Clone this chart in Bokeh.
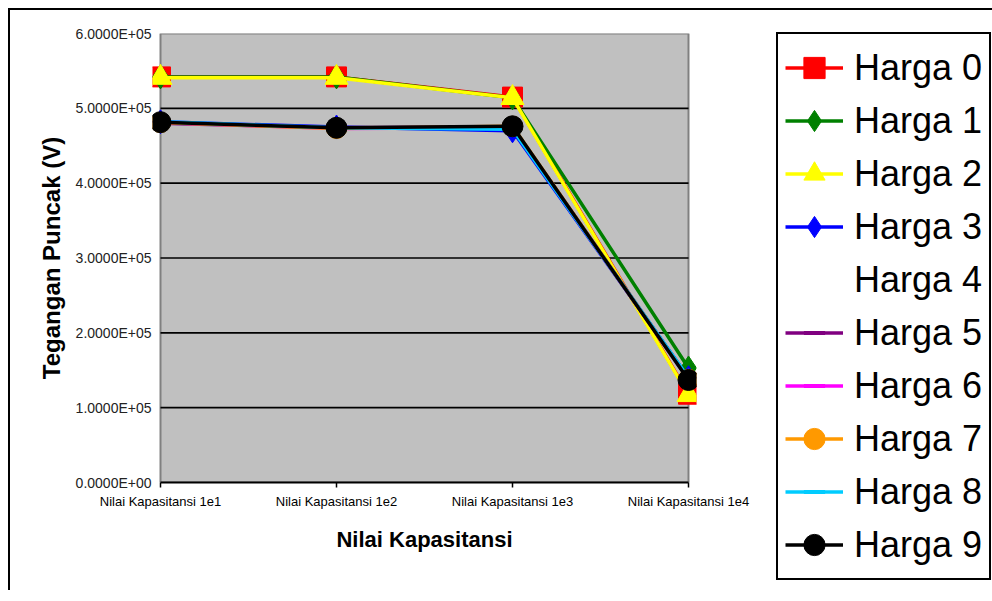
from bokeh.plotting import figure
from bokeh.models import FixedTicker, Legend, LegendItem, Range1d
from bokeh.embed import file_html
from bokeh.resources import INLINE

# ---------------- data ----------------
categories = ["Nilai Kapasitansi 1e1", "Nilai Kapasitansi 1e2",
              "Nilai Kapasitansi 1e3", "Nilai Kapasitansi 1e4"]
series_names = ["Harga 0", "Harga 1", "Harga 2", "Harga 3", "Harga 4",
                "Harga 5", "Harga 6", "Harga 7", "Harga 8", "Harga 9"]
harga_0 = [5.42e5, 5.42e5, 5.15e5, 1.18e5]
harga_1 = [5.42e5, 5.42e5, 5.14e5, 1.53e5]
harga_2 = [5.41e5, 5.41e5, 5.14e5, 1.17e5]
harga_3 = [4.82e5, 4.75e5, 4.70e5, 1.40e5]
harga_4 = [4.81e5, 4.74e5, 4.75e5, 1.38e5]
harga_5 = [4.80e5, 4.74e5, 4.75e5, 1.39e5]
harga_6 = [4.81e5, 4.73e5, 4.74e5, 1.38e5]
harga_7 = [4.81e5, 4.73e5, 4.76e5, 1.38e5]
harga_8 = [4.82e5, 4.74e5, 4.72e5, 1.40e5]
harga_9 = [4.815e5, 4.74e5, 4.76e5, 1.37e5]
y_ticks = [0, 1e5, 2e5, 3e5, 4e5, 5e5, 6e5]
y_tick_labels = ["0.0000E+00", "1.0000E+05", "2.0000E+05", "3.0000E+05",
                 "4.0000E+05", "5.0000E+05", "6.0000E+05"]
x_title = "Nilai Kapasitansi"
y_title = "Tegangan Puncak (V)"

all_series = [harga_0, harga_1, harga_2, harga_3, harga_4,
              harga_5, harga_6, harga_7, harga_8, harga_9]

# ---------------- styles ----------------
colors = ["#FF0000", "#008000", "#FFFF00", "#0000FF", "#FFFFFF",
          "#800080", "#FF00FF", "#FF9900", "#00CCFF", "#000000"]
markers = ["square", "diamond", "triangle", "diamond", None,
           "dash", "dash", "circle", "dash", "circle"]
msizes = [20, 24, 23, 24, 0, 10, 10, 20, 10, 21]
FONT = "Liberation Sans"

xs = list(range(len(categories)))
px_per_unit = 176.0
pad = 8.0 / px_per_unit

p = figure(frame_width=544, frame_height=449, output_backend="svg", toolbar_location=None,
           x_range=Range1d(xs[0] - pad, xs[-1] + pad),
           y_range=Range1d(y_ticks[0], y_ticks[-1]),
           min_border_left=142, min_border_right=10,
           min_border_top=23, min_border_bottom=108,
           styles={"margin-left": "8px", "margin-top": "8px",
                   "border-left": "2px solid black", "border-top": "2px solid black"})
p.outline_line_color = None
p.background_fill_color = "white"
p.border_fill_color = "white"
p.xgrid.visible = False
p.ygrid.visible = False

# plot area
p.quad(left=xs[0], right=xs[-1], bottom=y_ticks[0], top=y_ticks[-1],
       fill_color="#C0C0C0", line_color="#808080", line_width=2)
grid_vals = y_ticks[1:-1]
p.segment(x0=[xs[0]] * len(grid_vals), x1=[xs[-1]] * len(grid_vals),
          y0=grid_vals, y1=grid_vals, line_color="black", line_width=1.6)

items = []
for name, vals, col, mk, ms in zip(series_names, all_series, colors, markers, msizes):
    rs = []
    if mk is None:
        r = p.line(xs, vals, line_alpha=0)
        rs.append(r)
    else:
        r = p.line(xs, vals, line_color=col, line_width=3.5)
        rs.append(r)
        if mk == "dash":
            s = p.scatter(xs, vals, marker=mk, size=ms, line_color=col, line_width=4)
        else:
            s = p.scatter(xs, vals, marker=mk, size=ms, fill_color=col, line_color=col)
        rs.append(s)
    items.append(LegendItem(label=name, renderers=rs))

legend = Legend(items=items, location=(80, -98),
                label_text_font=FONT, label_text_font_size="36px",
                label_text_color="black", label_height=53, glyph_height=53,
                glyph_width=58, label_standoff=11, spacing=0, padding=7,
                margin=0, border_line_color="black", border_line_width=2,
                border_line_alpha=1,
                background_fill_color="white", background_fill_alpha=1)
p.add_layout(legend, "right")

# x axis
xa = p.xaxis[0]
xa.ticker = FixedTicker(ticks=xs)
xa.major_label_overrides = {i: c for i, c in zip(xs, categories)}
xa.bounds = (xs[0], xs[-1])
xa.axis_line_color = "black"
xa.axis_line_width = 2
xa.major_tick_line_color = "black"
xa.major_tick_line_width = 1.5
xa.major_tick_in = 0
xa.major_tick_out = 5
xa.minor_tick_line_color = None
xa.major_label_text_font = FONT
xa.major_label_text_font_size = "13px"
xa.major_label_text_color = "black"
xa.major_label_standoff = 6
xa.axis_label = x_title
xa.axis_label_text_font = FONT
xa.axis_label_text_font_style = "bold"
xa.axis_label_text_font_size = "22px"
xa.axis_label_text_color = "black"
xa.axis_label_standoff = 15

# y axis
ya = p.yaxis[0]
ya.ticker = FixedTicker(ticks=y_ticks)
ya.major_label_overrides = {t: l for t, l in zip(y_ticks, y_tick_labels)}
ya.axis_line_color = None
ya.major_tick_line_color = None
ya.major_tick_in = 0
ya.major_tick_out = 0
ya.minor_tick_line_color = None
ya.major_label_text_font = FONT
ya.major_label_text_font_size = "14px"
ya.major_label_text_color = "#222222"
ya.major_label_standoff = 1
ya.axis_label = y_title
ya.axis_label_text_font = FONT
ya.axis_label_text_font_style = "bold"
ya.axis_label_text_font_size = "24px"
ya.axis_label_text_color = "black"
ya.axis_label_standoff = 8

open("out.html", "w").write(file_html(p, INLINE))
